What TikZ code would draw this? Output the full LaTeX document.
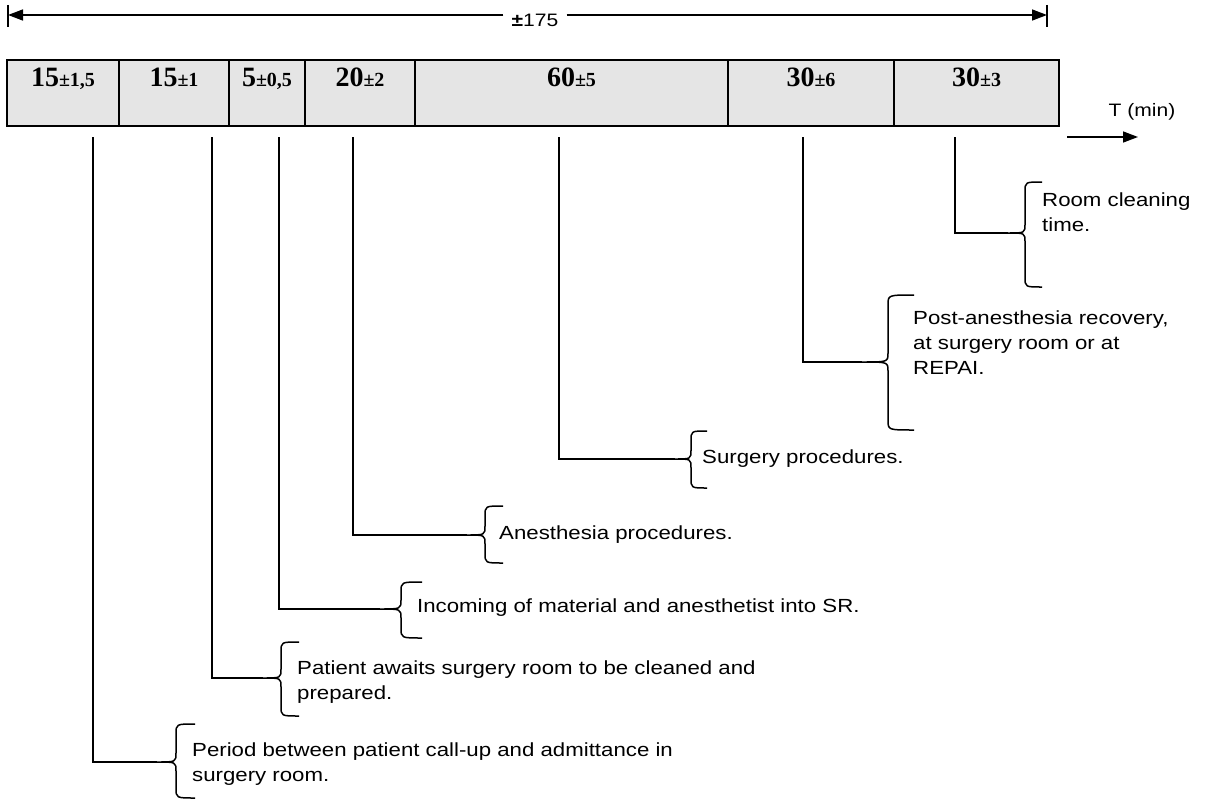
\documentclass[tikz,border=0pt]{standalone}
\usepackage{fontspec}
\setmainfont{Liberation Sans}[FakeStretch=1.17]
\newfontfamily\serifnum{Liberation Serif}
\usetikzlibrary{arrows.meta}

\newcommand{\tolr}[1]{{\fontsize{20}{20}\selectfont #1}}

\begin{document}
\begin{tikzpicture}[x=1pt, y=-1pt,
	barline/.style={line width=2pt},
	leader/.style={line width=1.5pt},
	brace/.style={line width=1.5pt, line join=round},
	dur/.style={font=\serifnum\bfseries\fontsize{28}{28}\selectfont, anchor=base, inner sep=0pt},
	note/.style={font=\fontsize{19}{25}\selectfont, align=left, anchor=west, inner sep=0pt},
	tip/.style={-{Triangle[length=15pt, width=11pt]}, line width=1.5pt}]
	\useasboundingbox (0,0) rectangle (1205,800);

	\coordinate (left) at (8,15);
	\coordinate (right) at (1047,15);
	\node[font=\fontsize{18}{18}\selectfont, inner sep=0pt] (total) at (535,20) {\textbf{±}175};
	\draw[tip, shorten <=8pt] (total.west |- left) -- (left);
	\draw[tip, shorten <=8pt] (total.east |- right) -- (right);
	\draw[leader] (8,5) -- (8,27);
	\draw[leader] (1047,5) -- (1047,27);

	\foreach \a/\b/\n/\t [count=\i] in {7/119/15/{±1,5}, 119/229/15/{±1}, 229/305/5/{±0,5}, 305/415/20/{±2}, 415/728/60/{±5}, 728/894/30/{±6}, 894/1059/30/{±3}} {
		\draw[barline, fill=black!10] (\a,60) rectangle (\b,126);
		\node[dur] (dur\i) at ({(\a+\b)/2},87) {\n\tolr{\t}};
	}

	\node[font=\fontsize{18}{18}\selectfont, inner sep=0pt] (unit) at (1142,112) {T (min)};
	\coordinate (t0) at (1067,137);
	\coordinate (t1) at (1138,137);
	\draw[tip] (t0) -- (t1);

	\foreach \x/\tx/\my/\top/\bot/\h [count=\i] in {93/157/762/724/798/19, 212/263/678/642/716/18, 279/380/609/582/638/21, 353/467/535/506/563/18, 559/675/459/431/488/16, 803/862/362/295/430/26, 955/1008/233/182/287/17} {
		\coordinate (foot\i) at (\x,137);
		\coordinate (tip\i) at (\tx,\my);
		\draw[leader] (foot\i) |- (tip\i);
		\draw[brace] (\tx+2*\h,\top) .. controls (\tx+\h,\top) .. (\tx+\h,\top+10) -- (\tx+\h,\my-9) .. controls (\tx+\h,\my) .. (tip\i) .. controls (\tx+\h,\my) .. (\tx+\h,\my+9) -- (\tx+\h,\bot-10) .. controls (\tx+\h,\bot) .. (\tx+2*\h,\bot);
	}

	\node[note] (n1) at (192,764) {Period between patient call-up and admittance in\\surgery room.};
	\node[note] (n2) at (297,682) {Patient awaits surgery room to be cleaned and\\prepared.};
	\node[note] (n3) at (417,608) {Incoming of material and anesthetist into SR.};
	\node[note] (n4) at (499,535) {Anesthesia procedures.};
	\node[note] (n5) at (702,459) {Surgery procedures.};
	\node[note] (n6) at (913,343) {Post-anesthesia recovery,\\at surgery room or at\\REPAI.};
	\node[note] (n7) at (1042,212) {Room cleaning\\time.};
\end{tikzpicture}
\end{document}
